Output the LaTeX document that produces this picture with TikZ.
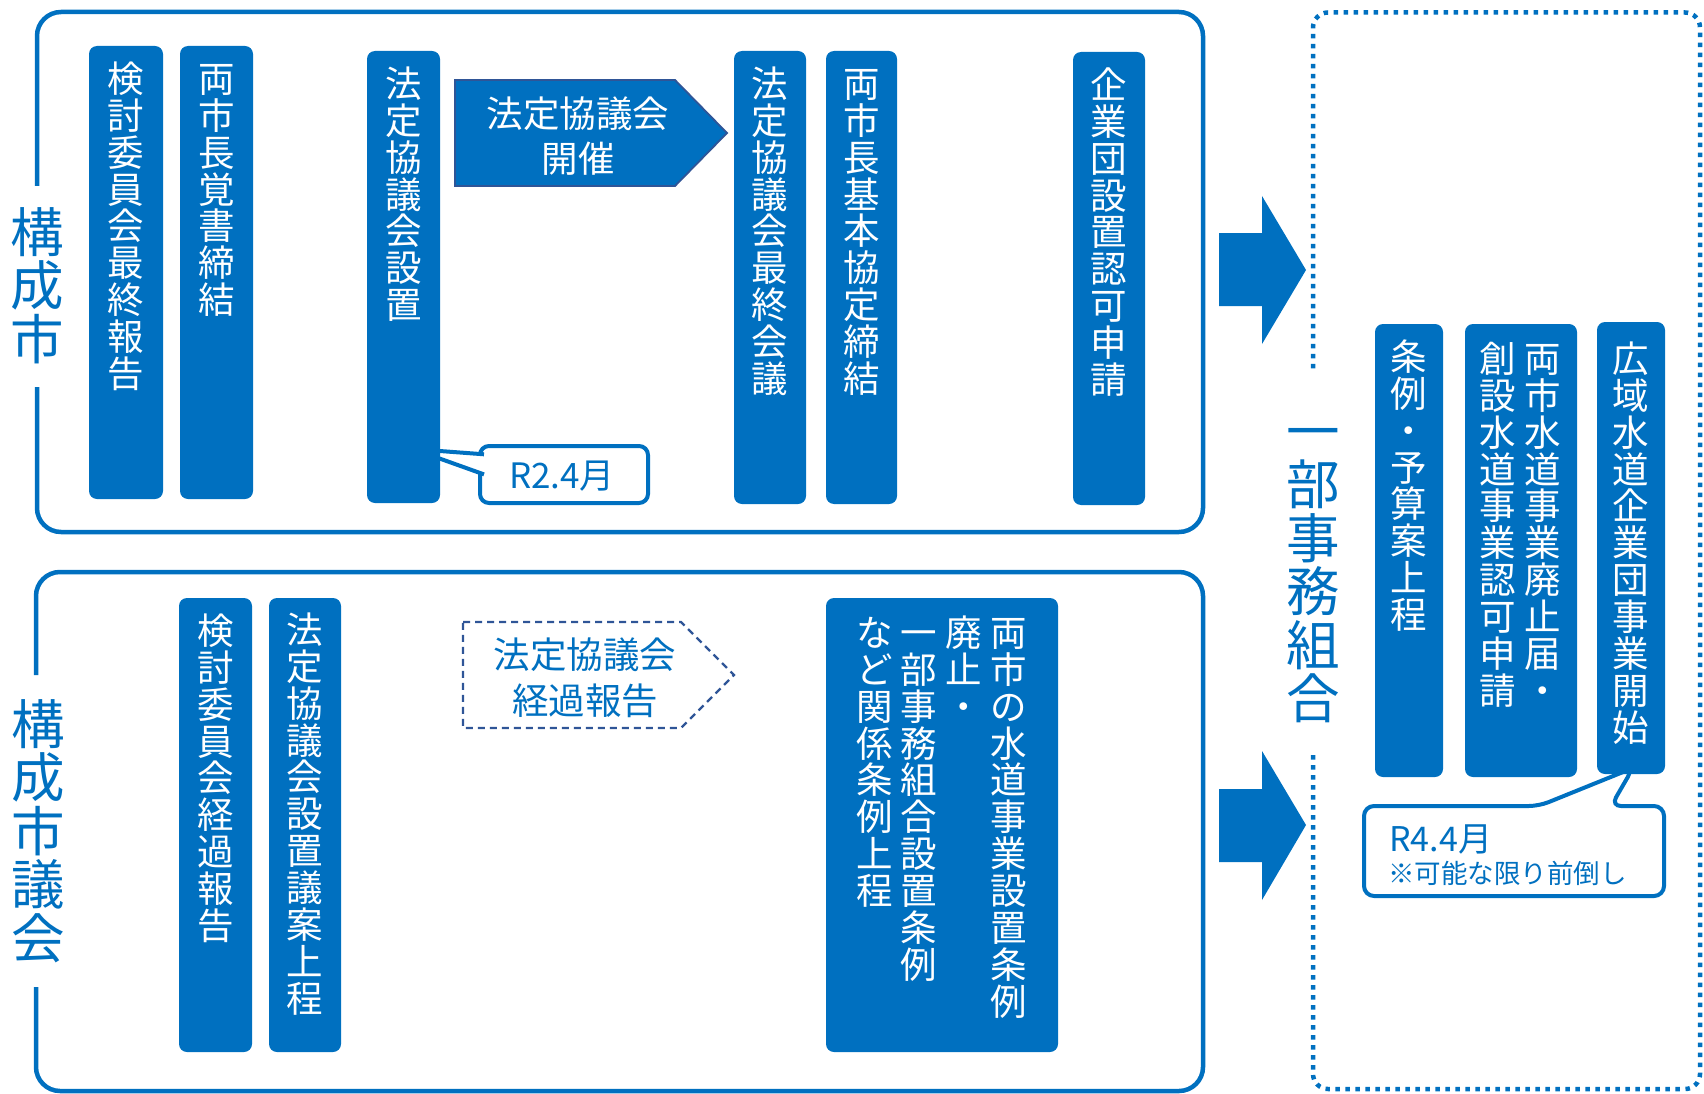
\documentclass[tikz,border=0pt]{standalone}
\usepackage{fontspec}
\newfontfamily\jp{Noto Sans CJK JP}
\definecolor{mblue}{HTML}{0070C0}
\definecolor{navy}{HTML}{2F5597}
\newcommand\vs{\rule{0pt}{.88em}}
\tikzset{
  frame/.style={draw=mblue, line width=4.5pt, rounded corners=24pt},
  dotframe/.style={draw=mblue, line width=4.5pt, dash pattern=on 4.5pt off 5.5pt, rounded corners=15pt},
  vbox/.style={fill=mblue, rounded corners=8pt},
  vtext/.style={text=white, font=\jp\fontsize{36.5pt}{36.9pt}\selectfont, align=center, anchor=north, inner sep=0pt},
  lbl/.style={text=mblue, font=\jp\fontsize{53.5pt}{53.5pt}\selectfont, align=center, anchor=north, inner sep=0pt},
  ptext/.style={font=\jp\fontsize{36.5pt}{45.5pt}\selectfont, align=center, inner sep=0pt},
  callbox/.style={fill=white, draw=mblue, line width=4pt},
  bigarrow/.style={fill=mblue},
}
\begin{document}
\begin{tikzpicture}[x=1pt,y=-1pt]
\useasboundingbox (0,0) rectangle (1704,1094);

% frames
\draw[frame] (37,387) -- (37,532) -- (1203,532) -- (1203,12) -- (37,12) -- (37,186);
\draw[frame] (36,987) -- (36,1091) -- (1203,1091) -- (1203,572) -- (36,572) -- (36,675);
\draw[dotframe] (1313,755) -- (1313,1089) -- (1700,1089) -- (1700,12.5) -- (1313,12.5) -- (1313,373);

% frame labels
\node[lbl] (lab1) at (37,205) {\vs 構\\成\\市};
\node[lbl] (lab2) at (38,697) {\vs 構\\成\\市\\議\\会};
\node[lbl] (lab3) at (1313,404) {\vs 一\\部\\事\\務\\組\\合};

% big arrows
\fill[bigarrow] (1219,233) -- (1262,233) -- (1262,196) -- (1306,270) -- (1262,344) -- (1262,306) -- (1219,306) -- cycle;
\fill[bigarrow] (1219,789) -- (1262,789) -- (1262,751) -- (1306,825) -- (1262,900) -- (1262,862) -- (1219,862) -- cycle;

% pentagon arrows
\draw[fill=mblue, draw=navy, line width=1.8pt] (455,80) -- (675,80) -- (727,133) -- (675,186) -- (455,186) -- cycle;
\node[ptext, text=white] (kaisai) at (578,136) {法定協議会\\開催};
\draw[draw=navy, line width=2.2pt, dash pattern=on 7pt off 5pt] (463,622) -- (681,622) -- (734,675) -- (681,728) -- (463,728) -- cycle;
\node[ptext, text=mblue] (keika) at (585,678) {法定協議会\\経過報告};

% callout R2.4
\draw[callbox, rounded corners=9pt] (480,446) rectangle (648,503);
\fill[white] (484,454.3) -- (413,449) -- (484,474.4) -- cycle;
\draw[mblue, line width=4pt] (484,454.3) -- (413,449) -- (484,474.4);
\node[text=mblue, font=\jp\fontsize{35pt}{35pt}\selectfont, inner sep=0pt] (r2) at (562,476) {R2.4月};

% callout R4.4
\draw[callbox, rounded corners=10pt] (1611,806) -- (1664,806) -- (1664,896) -- (1364,896) -- (1364,806) -- (1539,806) -- (1633,768) -- cycle;
\node[text=mblue, font=\jp\fontsize{34pt}{34pt}\selectfont, inner sep=0pt, anchor=base west] (r4) at (1389,851) {R4.4月};
\node[text=mblue, font=\jp\fontsize{26.5pt}{26.5pt}\selectfont, inner sep=0pt, anchor=base west] (r4n) at (1388,883) {※可能な限り前倒し};

% upper boxes
\path[vbox] (89,46) rectangle (163,499);
\node[vtext] (t1) at (126,60) {\vs 検\\討\\委\\員\\会\\最\\終\\報\\告};
\path[vbox] (180,46) rectangle (253,499);
\node[vtext] (t2) at (216.5,60) {\vs 両\\市\\長\\覚\\書\\締\\結};
\path[vbox] (367,51) rectangle (440,503);
\node[vtext] (t3) at (403.5,65) {\vs 法\\定\\協\\議\\会\\設\\置};
\path[vbox] (734,51) rectangle (806,504);
\node[vtext] (t4) at (770,65) {\vs 法\\定\\協\\議\\会\\最\\終\\会\\議};
\path[vbox] (826,51) rectangle (897,504);
\node[vtext] (t5) at (861.5,65) {\vs 両\\市\\長\\基\\本\\協\\定\\締\\結};
\path[vbox] (1073,52) rectangle (1145,505);
\node[vtext] (t6) at (1109,66) {\vs 企\\業\\団\\設\\置\\認\\可\\申\\請};

% lower boxes
\path[vbox] (179,598) rectangle (252,1052);
\node[vtext] (u1) at (215.5,612) {\vs 検\\討\\委\\員\\会\\経\\過\\報\\告};
\path[vbox] (269,598) rectangle (341,1052);
\node[vtext] (u2) at (305,611) {\vs 法\\定\\協\\議\\会\\設\\置\\議\\案\\上\\程};
\path[vbox] (826,598) rectangle (1058,1052);
\node[vtext] (u3a) at (1009,614) {\vs 両\\市\\の\\水\\道\\事\\業\\設\\置\\条\\例};
\node[vtext] (u3b) at (964,614) {\vs 廃\\止\\・};
\node[vtext] (u3c) at (919,614) {\vs 一\\部\\事\\務\\組\\合\\設\\置\\条\\例};
\node[vtext] (u3d) at (875,614) {\vs な\\ど\\関\\係\\条\\例\\上\\程};

% right boxes
\path[vbox] (1375,324) rectangle (1443,777);
\node[vtext] (s1) at (1409,338) {\vs 条\\例\\・\\予\\算\\案\\上\\程};
\path[vbox] (1465,324) rectangle (1577,777);
\node[vtext] (s2a) at (1543,340) {\vs 両\\市\\水\\道\\事\\業\\廃\\止\\届\\・};
\node[vtext] (s2b) at (1498,340) {\vs 創\\設\\水\\道\\事\\業\\認\\可\\申\\請};
\path[vbox] (1597,322) rectangle (1665,774);
\node[vtext] (s3) at (1631,340) {\vs 広\\域\\水\\道\\企\\業\\団\\事\\業\\開\\始};
\end{tikzpicture}
\end{document}
